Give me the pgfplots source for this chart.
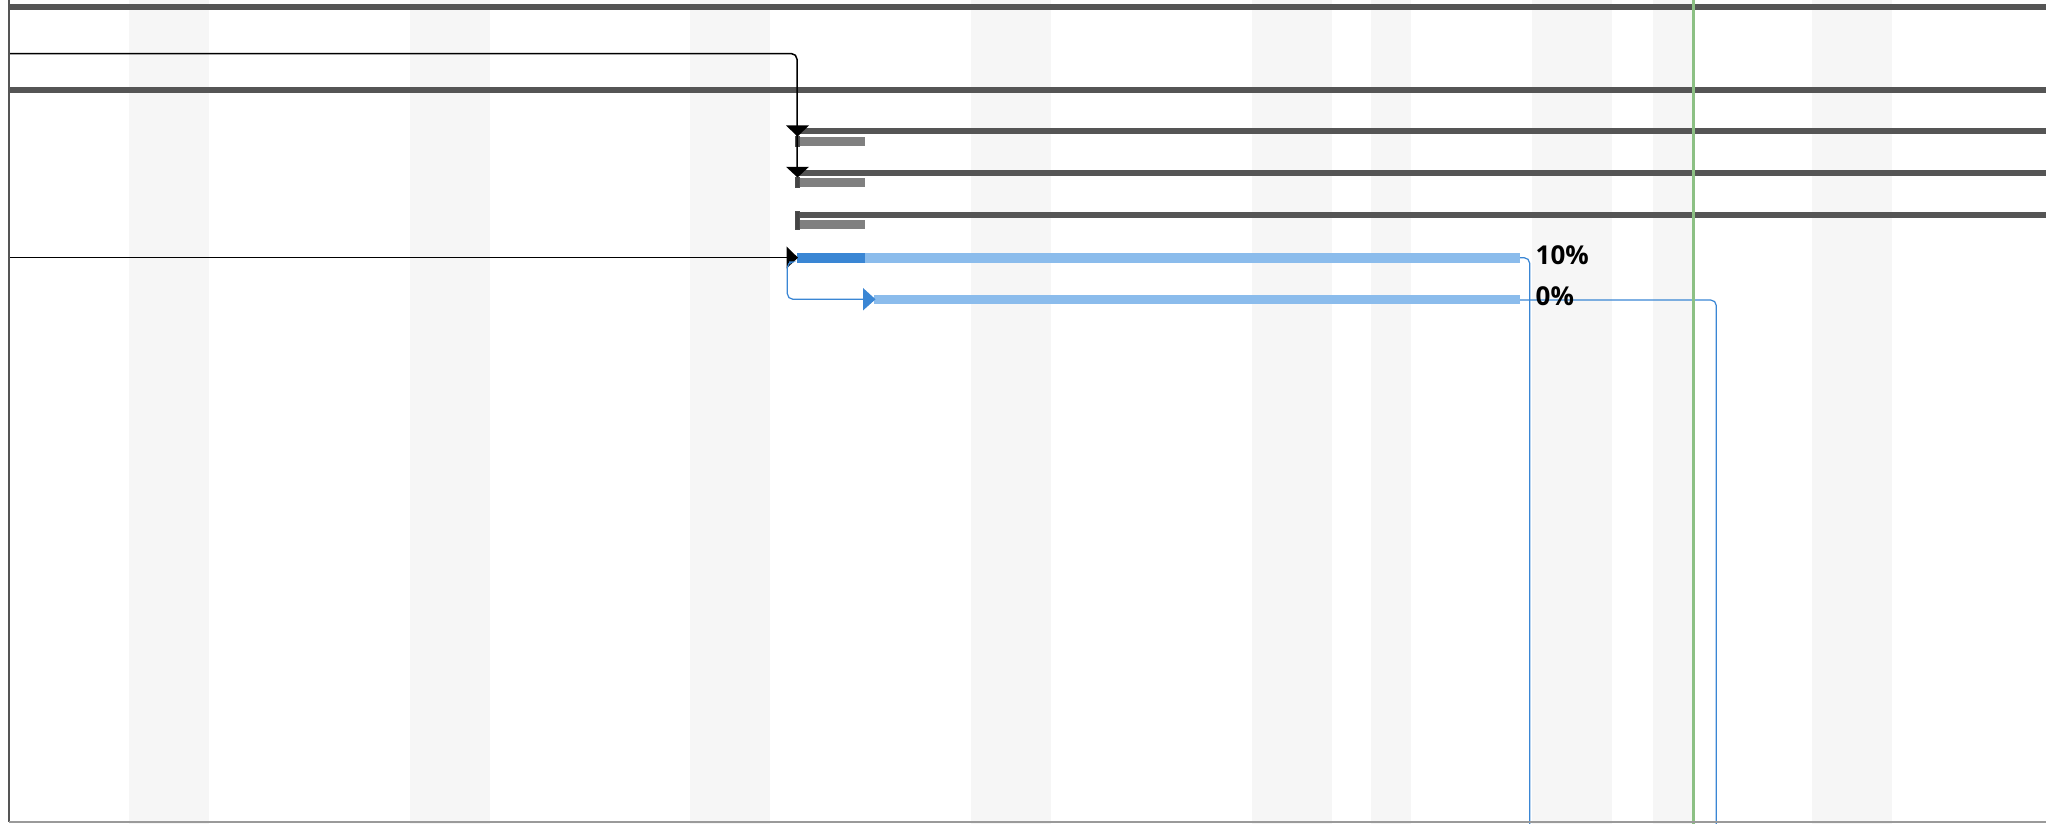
\documentclass[border=0pt]{standalone}
\usepackage{pgfplots}
\pgfplotsset{compat=1.18}
\usepackage{fontspec}
\setmainfont{Open Sans}
\definecolor{band}{HTML}{F6F6F6}
\definecolor{sumbar}{HTML}{555555}
\definecolor{basebar}{HTML}{808080}
\definecolor{bluedark}{HTML}{3A86D4}
\definecolor{bluelight}{HTML}{8BBCEC}
\definecolor{todaygreen}{HTML}{8CC084}
\definecolor{bordergray}{HTML}{9A9A9A}
\begin{document}
\begin{tikzpicture}
\useasboundingbox (0,0) rectangle (20.46cm,8.24cm);
\begin{axis}[
  at={(0,0)}, anchor=south west,
  width=20.46cm, height=8.24cm, scale only axis,
  xmin=0, xmax=2046, ymin=0, ymax=824, y dir=reverse,
  hide axis, clip=true,
]
% non-working-day bands
\addplot[fill=band, draw=none] coordinates {(129,0)(209,0)(209,824)(129,824)} -- cycle;
\addplot[fill=band, draw=none] coordinates {(410,0)(490,0)(490,824)(410,824)} -- cycle;
\addplot[fill=band, draw=none] coordinates {(690,0)(770,0)(770,824)(690,824)} -- cycle;
\addplot[fill=band, draw=none] coordinates {(971,0)(1051,0)(1051,824)(971,824)} -- cycle;
\addplot[fill=band, draw=none] coordinates {(1252,0)(1332,0)(1332,824)(1252,824)} -- cycle;
\addplot[fill=band, draw=none] coordinates {(1371,0)(1411,0)(1411,824)(1371,824)} -- cycle;
\addplot[fill=band, draw=none] coordinates {(1532,0)(1612,0)(1612,824)(1532,824)} -- cycle;
\addplot[fill=band, draw=none] coordinates {(1653,0)(1693,0)(1693,824)(1653,824)} -- cycle;
\addplot[fill=band, draw=none] coordinates {(1812,0)(1892,0)(1892,824)(1812,824)} -- cycle;
% summary / task bars (dark)
\addplot[sumbar, line width=1.71pt] coordinates {(9,7)(2046,7)};
\addplot[sumbar, line width=1.71pt] coordinates {(9,90)(2046,90)};
\addplot[sumbar, line width=1.71pt] coordinates {(797,131)(2046,131)};
\addplot[sumbar, line width=1.71pt] coordinates {(797,173)(2046,173)};
\addplot[sumbar, line width=1.71pt] coordinates {(797,215)(2046,215)};
% baseline bars (gray)
\addplot[basebar, line width=2.56pt] coordinates {(797,141.2)(865,141.2)};
\addplot[basebar, line width=2.56pt] coordinates {(797,182.8)(865,182.8)};
\addplot[basebar, line width=2.56pt] coordinates {(797,224.5)(865,224.5)};
% start markers
\addplot[fill=sumbar!80!black, draw=black!70, line width=0.2pt] coordinates {(795,136)(799,136)(799,146)(795,146)} -- cycle;
\addplot[fill=sumbar!80!black, draw=black!70, line width=0.2pt] coordinates {(795,177.5)(799,177.5)(799,187.5)(795,187.5)} -- cycle;
\addplot[fill=sumbar!80!black, draw=black!70, line width=0.2pt] coordinates {(795,211.5)(799,211.5)(799,229)(795,229)} -- cycle;
% progress bars (blue)
\addplot[bluelight, line width=2.7pt] coordinates {(865,258)(1520,258)};
\addplot[bluedark, line width=2.7pt] coordinates {(797,258)(865,258)};
\addplot[bluelight, line width=2.7pt] coordinates {(874,299.3)(1520,299.3)};
% black connectors
\addplot[black, line width=0.43pt, rounded corners=1.6pt] coordinates {(9,53.6)(797,53.6)(797,170)};
\addplot[black, line width=0.35pt] coordinates {(9,257.7)(788,257.7)};
\addplot[fill=black, draw=none] coordinates {(786,125.5)(809,125.5)(797.5,136.5)} -- cycle;
\addplot[fill=black, draw=none] coordinates {(786,166.8)(809,166.8)(797.5,177.5)} -- cycle;
\addplot[fill=black, draw=none] coordinates {(786.5,246.5)(786.5,268.5)(798,257.7)} -- cycle;
% blue connectors
\addplot[bluedark, line width=0.35pt, rounded corners=1.6pt] coordinates {(789,262)(787.3,262)(787.3,299.3)(864,299.3)};
\addplot[fill=bluedark, draw=none] coordinates {(863,288)(863,310.5)(875.5,299.3)} -- cycle;
\addplot[bluedark, line width=0.35pt, rounded corners=1.6pt] coordinates {(1520,257.7)(1529.7,257.7)(1529.7,824)};
\addplot[bluedark, line width=0.35pt, rounded corners=1.6pt] coordinates {(1520,300)(1716.3,300)(1716.3,824)};
% today line
\addplot[todaygreen, line width=0.77pt] coordinates {(1693.6,0)(1693.6,824)};
% borders
\addplot[sumbar, line width=0.57pt] coordinates {(9,0)(9,822)};
\addplot[bordergray, line width=0.57pt] coordinates {(9,822)(2046,822)};
% labels
\node[anchor=west, inner sep=0pt, font=\fontsize{7.4}{8}\selectfont\bfseries] at (axis cs:1535,255.5) {10\%};
\node[anchor=west, inner sep=0pt, font=\fontsize{7.4}{8}\selectfont\bfseries] at (axis cs:1535,296.5) {0\%};
\end{axis}
\end{tikzpicture}
\end{document}
